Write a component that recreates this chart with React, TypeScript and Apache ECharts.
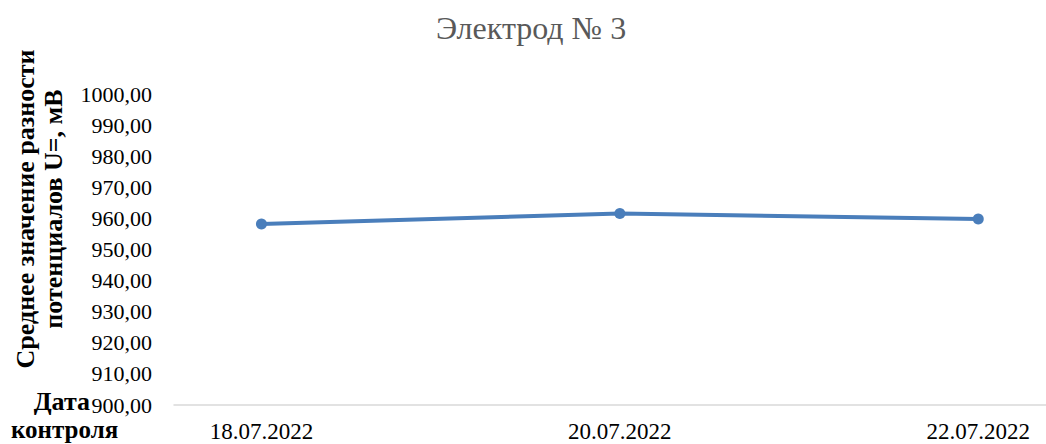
import React, { useEffect, useRef } from "react";
import * as echarts from "echarts";

const categories = ["18.07.2022", "20.07.2022", "22.07.2022"];
const values = [958.2, 961.6, 959.8];
const yMin = 900;
const yMax = 1000;
const yStep = 10;
const titleText = "Электрод № 3";
const yAxisTitle = ["Среднее значение разности", "потенциалов U=, мВ"];
const xAxisTitle = ["Дата", "контроля"];

const SERIF = "'Liberation Serif', 'Times New Roman', serif";

export default function App() {
  const ref = useRef<HTMLDivElement>(null);
  useEffect(() => {
    if (!ref.current) return;
    const chart = echarts.init(ref.current, undefined, { renderer: "svg" });
    const idx = categories.map((_, i) => i);
    chart.setOption({
      animation: false,
      backgroundColor: "#ffffff",
      title: {
        text: titleText,
        left: 526,
        top: 7,
        textAlign: "center",
        textStyle: { fontFamily: SERIF, fontSize: 32, fontWeight: "normal", color: "#595959" },
      },
      grid: { left: 174, right: 0, top: 94, bottom: 39 },
      xAxis: {
        type: "value",
        min: -0.244,
        max: 2.189,
        splitLine: { show: false },
        axisTick: { show: false },
        axisLine: { show: true, lineStyle: { color: "#d9d9d9", width: 1.5 } },
        axisLabel: {
          customValues: idx,
          formatter: (v: number) => categories[Math.round(v)] ?? "",
          fontFamily: SERIF,
          fontSize: 23,
          color: "#000",
          margin: 15,
        },
      },
      yAxis: {
        type: "value",
        min: yMin,
        max: yMax,
        interval: yStep,
        splitLine: { show: false },
        axisLine: { show: false },
        axisTick: { show: false },
        axisLabel: {
          formatter: (v: number) => v.toFixed(2).replace(".", ","),
          fontFamily: SERIF,
          fontSize: 22,
          color: "#000",
          margin: 22,
        },
      },
      graphic: [
        {
          type: "text",
          x: 25,
          y: 209,
          rotation: Math.PI / 2,
          style: {
            text: yAxisTitle[0],
            font: `bold 26px ${SERIF}`,
            fill: "#000",
            textAlign: "center",
            textVerticalAlign: "middle",
          },
        },
        {
          type: "text",
          x: 53,
          y: 209,
          rotation: Math.PI / 2,
          style: {
            text: yAxisTitle[1],
            font: `bold 26px ${SERIF}`,
            fill: "#000",
            textAlign: "center",
            textVerticalAlign: "middle",
          },
        },
        {
          type: "text",
          x: 90,
          y: 401,
          style: {
            text: xAxisTitle[0],
            font: `bold 26px ${SERIF}`,
            fill: "#000",
            textAlign: "right",
            textVerticalAlign: "middle",
          },
        },
        {
          type: "text",
          x: 11,
          y: 429,
          style: {
            text: xAxisTitle[1],
            font: `bold 25px ${SERIF}`,
            fill: "#000",
            textAlign: "left",
            textVerticalAlign: "middle",
          },
        },
      ],
      series: [
        {
          type: "line",
          data: values.map((v, i) => [idx[i], v]),
          symbol: "circle",
          symbolSize: 11,
          lineStyle: { color: "#4a7ebb", width: 4 },
          itemStyle: { color: "#4a7ebb" },
        },
      ],
    });
    return () => chart.dispose();
  }, []);
  return <div ref={ref} style={{ width: 1046, height: 444, position: "absolute", left: 0, top: 0 }} />;
}
